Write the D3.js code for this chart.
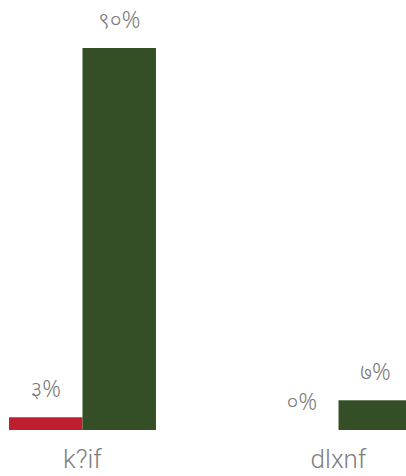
<!DOCTYPE html>
<html>
<head>
<meta charset="utf-8">
<script src="https://cdn.jsdelivr.net/npm/d3@7"></script>
<style>
  html, body { margin: 0; padding: 0; background: #fff; }
  svg { display: block; }
</style>
</head>
<body>
<svg id="chart" width="406" height="476"></svg>
<script>
// Categories (Preeti-encoded Nepali) and two series of percentages
const categories = ["k?if", "dlxnf"];
const seriesNames = ["s1", "s2"];
const series1 = [3, 0];
const series2 = [90, 7];
const seriesColors = ["#BE1E2D", "#344F25"];

const devanagariDigits = ["०","१","२","३","४","५","६","७","८","९"];
const toDevanagari = v => String(v).replace(/[0-9]/g, d => devanagariDigits[+d]);

const svg = d3.select("#chart");

const x0 = d3.scaleBand()
  .domain(categories)
  .range([9, 412])
  .paddingInner(0.426)
  .paddingOuter(0);

const x1 = d3.scaleBand()
  .domain(seriesNames)
  .range([0, x0.bandwidth()]);

const y = d3.scaleLinear()
  .domain([0, 90])
  .range([430, 48]);

const rows = categories.map((c, i) => ({
  cat: c,
  values: [
    { key: "s1", value: series1[i], color: seriesColors[0] },
    { key: "s2", value: series2[i], color: seriesColors[1] }
  ]
}));

const groups = svg.selectAll("g.group")
  .data(rows)
  .join("g")
  .attr("class", "group")
  .attr("transform", d => `translate(${x0(d.cat)},0)`);

groups.selectAll("rect")
  .data(d => d.values)
  .join("rect")
  .attr("x", d => x1(d.key))
  .attr("width", x1.bandwidth())
  .attr("y", d => y(d.value))
  .attr("height", d => y(0) - y(d.value))
  .attr("fill", d => d.color);

groups.selectAll("text.val")
  .data(d => d.values)
  .join("text")
  .attr("class", "val")
  .attr("x", d => x1(d.key) + x1.bandwidth() / 2)
  .attr("y", d => y(d.value) - 20)
  .attr("text-anchor", "middle")
  .attr("font-family", "'Noto Sans', 'DejaVu Sans', sans-serif")
  .attr("font-weight", 300)
  .attr("font-size", 23)
  .attr("fill", "#7a7a7a")
  .text(d => toDevanagari(d.value) + "%");

// Category axis labels
const xAxis = d3.axisBottom(x0).tickSize(0).tickPadding(0);
const axisG = svg.append("g")
  .attr("transform", `translate(0,${y(0)})`)
  .call(xAxis);
axisG.select(".domain").remove();
axisG.selectAll("text")
  .attr("dy", null)
  .attr("y", 38)
  .attr("font-family", "Roboto, sans-serif")
  .attr("font-weight", 300)
  .attr("font-size", 26)
  .attr("fill", "#808080");
</script>
</body>
</html>
